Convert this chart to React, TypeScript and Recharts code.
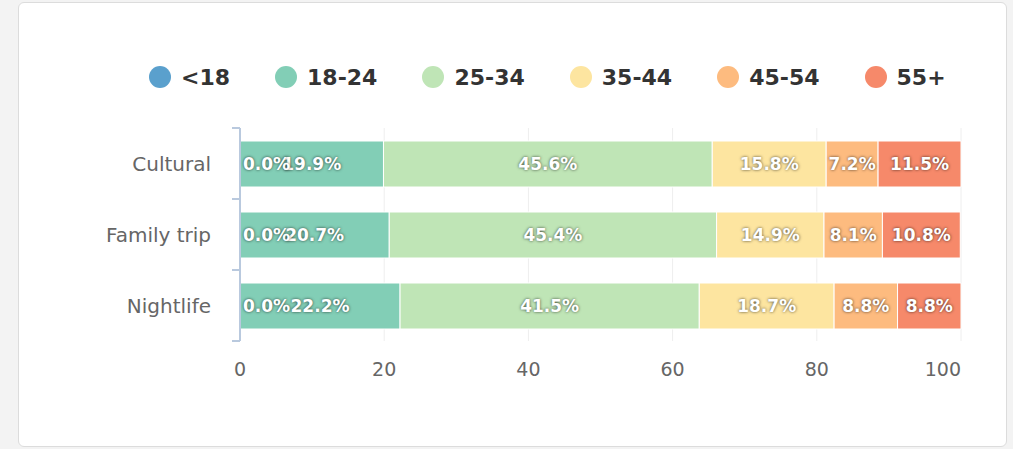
import React from "react";
import {
  BarChart,
  Bar,
  XAxis,
  YAxis,
  CartesianGrid,
  Legend,
  LabelList,
} from "recharts";

const categories = ["Cultural", "Family trip", "Nightlife"];
const seriesNames = ["<18", "18-24", "25-34", "35-44", "45-54", "55+"];
const under18 = [0, 0, 0];
const age18to24 = [19.9, 20.7, 22.2];
const age25to34 = [45.6, 45.4, 41.5];
const age35to44 = [15.8, 14.9, 18.7];
const age45to54 = [7.2, 8.1, 8.8];
const age55plus = [11.5, 10.8, 8.8];
const xTicks = [0, 20, 40, 60, 80, 100];

const COLORS: Record<string, string> = {
  "<18": "#5aa0cd",
  "18-24": "#82ceb6",
  "25-34": "#bfe5b6",
  "35-44": "#fde5a0",
  "45-54": "#fdbb7f",
  "55+": "#f6896a",
};

const seriesValues = [under18, age18to24, age25to34, age35to44, age45to54, age55plus];

const data = categories.map((name, i) => {
  const row: Record<string, string | number> = { name };
  seriesNames.forEach((s, j) => {
    row[s] = seriesValues[j][i];
  });
  return row;
});

const FONT = "'DejaVu Sans', sans-serif";
const CHART_W = 987;
const CHART_H = 443;
const PLOT_H = 213;
const AXIS_COLOR = "#b9c9de";

const renderLegend = () => (
  <div
    style={{
      display: "flex",
      alignItems: "center",
      height: 36,
      paddingLeft: 130,
      fontFamily: FONT,
    }}
  >
    {seriesNames.map((s) => (
      <div key={s} style={{ display: "flex", alignItems: "center", marginRight: 45 }}>
        <span
          style={{
            width: 22,
            height: 22,
            borderRadius: "50%",
            background: COLORS[s],
            display: "inline-block",
            marginRight: 10,
          }}
        />
        <span style={{ fontSize: 22, fontWeight: "bold", color: "#333" }}>{s}</span>
      </div>
    ))}
  </div>
);

const CategoryTick = (props: any) => {
  const { x, y, payload, index } = props;
  const band = PLOT_H / categories.length;
  const axisX = x + 29;
  return (
    <g>
      <line x1={axisX - 8} x2={axisX} y1={y - band / 2} y2={y - band / 2} stroke={AXIS_COLOR} strokeWidth={2} />
      {index === categories.length - 1 && (
        <line x1={axisX - 8} x2={axisX} y1={y + band / 2} y2={y + band / 2} stroke={AXIS_COLOR} strokeWidth={2} />
      )}
      <text x={x} y={y} dy="0.35em" textAnchor="end" fill="#666" fontSize={20} fontFamily={FONT}>
        {payload.value}
      </text>
    </g>
  );
};

const ValueTick = (props: any) => {
  const { x, y, payload, index } = props;
  const last = index === xTicks.length - 1;
  return (
    <text
      x={x}
      y={y}
      dy="0.71em"
      textAnchor={last ? "end" : "middle"}
      fill="#666"
      fontSize={19}
      fontFamily={FONT}
    >
      {payload.value}
    </text>
  );
};

const labelText = (tx: number, ty: number, anchor: "start" | "middle", value: number) => (
  <text
    x={tx}
    y={ty}
    dy="0.35em"
    textAnchor={anchor}
    fill="#fff"
    fontSize={17}
    fontWeight="bold"
    fontFamily={FONT}
    style={{ textShadow: "0 0 3px rgba(0,0,0,0.7)" }}
  >
    {`${Number(value).toFixed(1)}%`}
  </text>
);

const centerLabel = (props: any) => {
  const { x, y, width, height, value } = props;
  return labelText(x + width / 2, y + height / 2, "middle", value);
};

// the <18 bars are zero wide, so their labels hang off the start of the next segment
const startLabel = (props: any) => {
  const { x, y, height, value } = props;
  return labelText(x + 3, y + height / 2, "start", value);
};

export default function App() {
  return (
    <div
      style={{
        position: "absolute",
        left: 0,
        top: 0,
        width: 1013,
        height: 449,
        background: "#f3f3f3",
        overflow: "hidden",
      }}
    >
      <div
        style={{
          position: "absolute",
          left: 18,
          top: 2,
          width: CHART_W,
          height: CHART_H,
          background: "#fff",
          border: "1px solid #dcdcdc",
          borderRadius: 6,
        }}
      >
        <BarChart
          width={CHART_W}
          height={CHART_H}
          data={data}
          layout="vertical"
          margin={{ top: 89, right: 45, bottom: 65, left: 0 }}
        >
          <Legend
            verticalAlign="top"
            content={renderLegend}
            wrapperStyle={{ top: 56, left: 0, width: CHART_W }}
          />
          <CartesianGrid horizontal={false} vertical stroke="#eeeeee" />
          <XAxis
            type="number"
            domain={[0, 100]}
            ticks={xTicks}
            axisLine={false}
            tickLine={false}
            tickMargin={16}
            height={40}
            tick={<ValueTick />}
          />
          <YAxis
            type="category"
            dataKey="name"
            width={221}
            axisLine={{ stroke: AXIS_COLOR, strokeWidth: 2 }}
            tickLine={false}
            tickSize={8}
            tickMargin={21}
            tick={<CategoryTick />}
          />
          {seriesNames.map((s, j) => (
            <Bar
              key={s}
              dataKey={s}
              stackId="a"
              fill={COLORS[s]}
              stroke="#fff"
              strokeWidth={1}
              barSize={46}
              isAnimationActive={false}
            >
              {j > 0 && <LabelList dataKey={s} content={centerLabel} />}
              {j === 1 && <LabelList dataKey={seriesNames[0]} content={startLabel} />}
            </Bar>
          ))}
        </BarChart>
      </div>
    </div>
  );
}
